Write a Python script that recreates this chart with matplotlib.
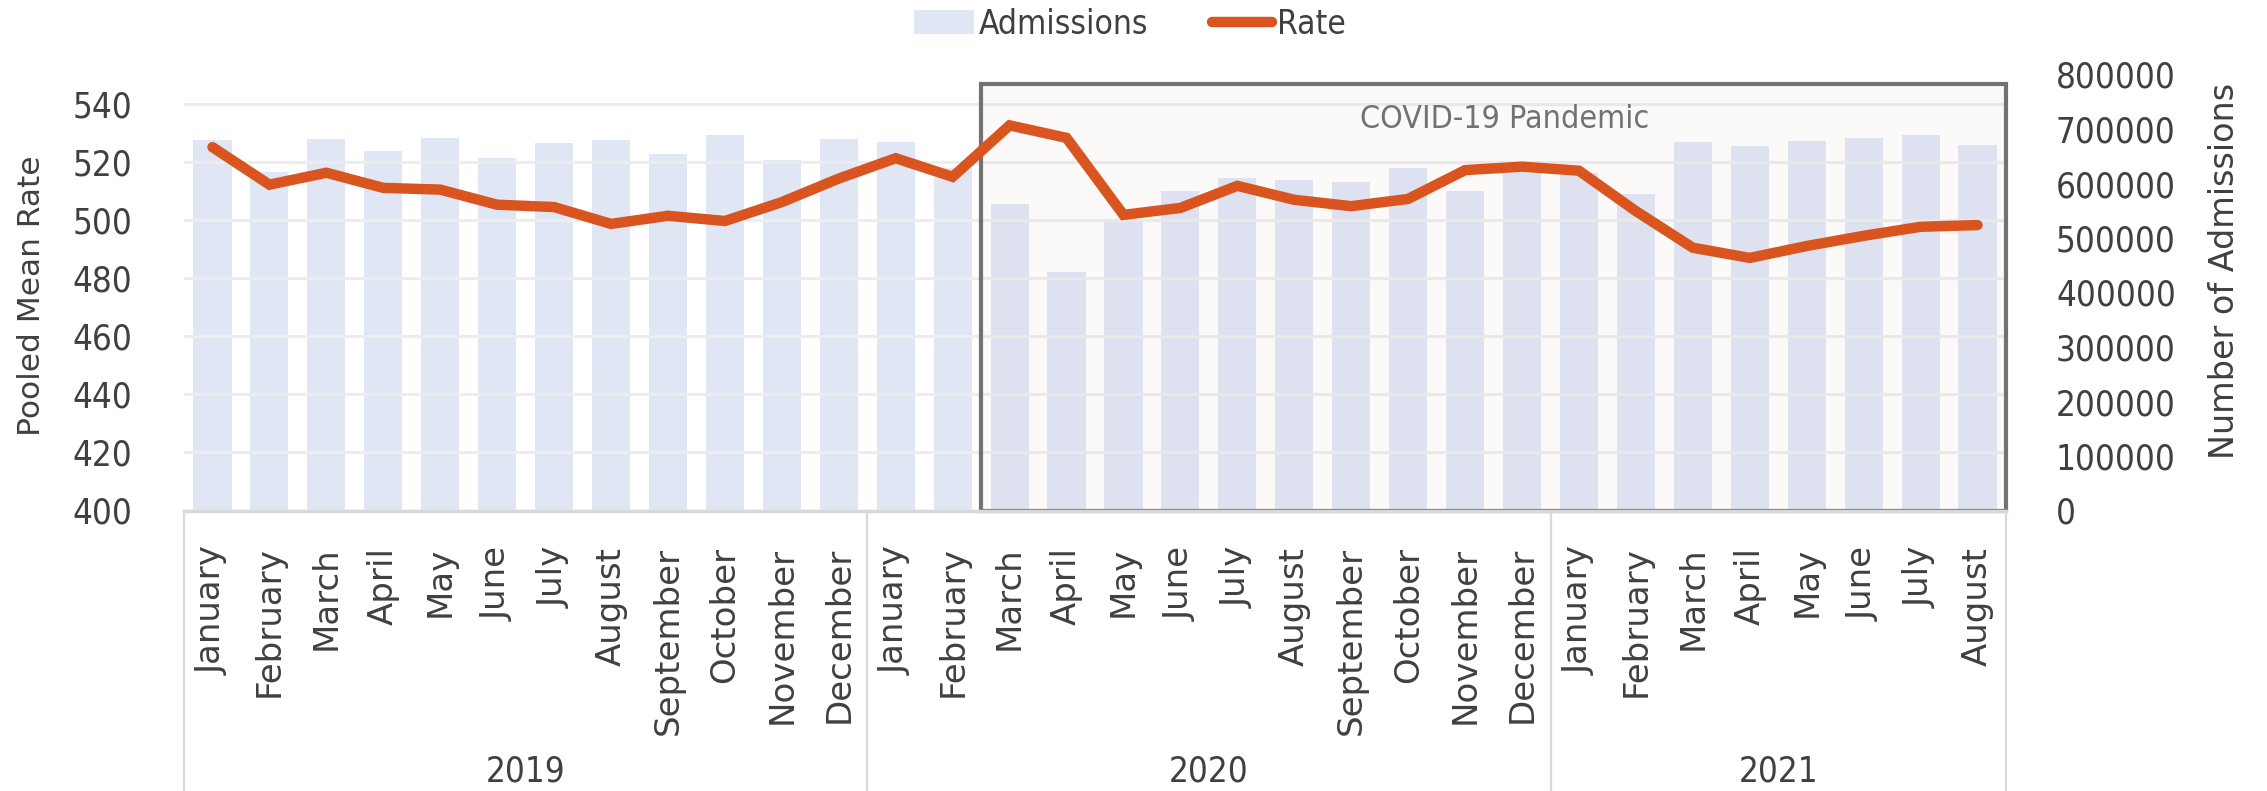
import matplotlib
matplotlib.use('Agg')
import matplotlib.pyplot as plt
from matplotlib.patches import Rectangle, Patch
from matplotlib.lines import Line2D
from matplotlib.transforms import blended_transform_factory

# --- dane ---
months = ['January', 'February', 'March', 'April', 'May', 'June', 'July', 'August',
          'September', 'October', 'November', 'December',
          'January', 'February', 'March', 'April', 'May', 'June', 'July', 'August',
          'September', 'October', 'November', 'December',
          'January', 'February', 'March', 'April', 'May', 'June', 'July', 'August']
years = ['2019', '2020', '2021']
year_counts = [12, 12, 8]

admissions = [680600, 621000, 682400, 659400, 683600, 647700, 674300, 680000,
              654500, 689200, 643300, 681800,
              676700, 628000, 562000, 438000, 532000, 586000, 611000, 606000,
              603000, 628000, 586000, 625000,
              619000, 581000, 675600, 668800, 678000, 683600, 688600, 670600]

rate = [525.0, 512.1, 516.2, 511.0, 510.4, 505.2, 504.4, 498.6,
        501.4, 499.6, 506.1, 514.2,
        521.2, 514.8, 532.5, 528.2, 501.7, 504.1, 511.7, 506.9,
        504.7, 507.2, 517.1, 518.3,
        516.9, 503.0, 490.4, 486.9, 491.0, 494.5, 497.6, 498.2]

covid_start = 14  # marzec 2020

# --- kolory / czcionki ---
BAR_C = '#E1E6F5'
LINE_C = '#D9541F'
TXT_C = '#404040'
GRID_C = '#EDEDED'
SEP_C = '#D9D9D9'
num_font = dict(family='DejaVu Sans', stretch='condensed')

fig = plt.figure(figsize=(22.67, 7.91), dpi=100)
ax = fig.add_axes([184 / 2267, 280.5 / 791, 1822 / 2267, 436 / 791])
ax2 = ax.twinx()
ax.set_zorder(ax2.get_zorder() + 1)
ax.patch.set_visible(False)

x = list(range(len(months)))

# slupki (prawa os)
ax2.bar(x, admissions, width=0.67, color=BAR_C, zorder=1)
ax2.set_ylim(0, 800000)
ax2.set_yticks(range(0, 800001, 100000))
ax2.set_yticklabels([str(v) for v in range(0, 800001, 100000)], color=TXT_C,
                    fontsize=25, **num_font)
ax2.tick_params(axis='y', length=0, pad=36)

# linia (lewa os)
ax.plot(x, rate, color=LINE_C, lw=7.5, solid_capstyle='round',
        solid_joinstyle='miter', zorder=4)
ax.set_ylim(400, 550)
ax.set_xlim(-0.5, len(months) - 0.5)
ax.set_yticks(range(400, 541, 20))
ax.set_yticklabels([str(v) for v in range(400, 541, 20)], color=TXT_C,
                   fontsize=25, **num_font)
ax.tick_params(axis='y', length=0, pad=37)
ax.yaxis.grid(True, color=GRID_C, lw=2.2, zorder=0)
ax.set_axisbelow(True)

# os X - miesiace
ax.set_xticks(x)
ax.set_xticklabels(months, rotation=90, fontsize=24.5, color=TXT_C)
ax.tick_params(axis='x', length=0, pad=26)

for a in (ax, ax2):
    for s in a.spines.values():
        s.set_visible(False)
ax.spines['bottom'].set_visible(True)
ax.spines['bottom'].set_color(SEP_C)
ax.spines['bottom'].set_linewidth(2.5)

# prostokat COVID
ax.add_patch(Rectangle((covid_start - 0.5, 400), len(months) - covid_start, 146.6,
                       facecolor='#A89888', alpha=0.045, edgecolor='none',
                       zorder=1, clip_on=False))
ax.add_patch(Rectangle((covid_start - 0.5, 400), len(months) - covid_start, 146.6,
                       facecolor='none', edgecolor='#767171', lw=3, zorder=2,
                       clip_on=False))
ax.text(22.7, 534.5, 'COVID-19 Pandemic', color='#767171', fontsize=23,
        ha='center', va='center', zorder=3, **num_font)

# separatory lat i etykiety lat
tr = blended_transform_factory(ax.transData, fig.transFigure)
bounds = [-0.5]
for c in year_counts:
    bounds.append(bounds[-1] + c)
for b in bounds:
    ax.plot([b, b], [0, 280.5 / 791], transform=tr, color=SEP_C, lw=1.6,
            clip_on=False)
for i, yr in enumerate(years):
    xc = (bounds[i] + bounds[i + 1]) / 2
    ax.text(xc, 19.3 / 791, yr, transform=tr, ha='center', va='center',
            fontsize=25, color=TXT_C, **num_font)

# opisy osi
fig.text(31.6 / 2267, 1 - 296 / 791, 'Pooled Mean Rate', rotation=90,
         ha='center', va='center', fontsize=22.5, color=TXT_C)
fig.text(2225 / 2267, 1 - 270.5 / 791, 'Number of Admissions', rotation=90,
         ha='center', va='center', fontsize=24, color=TXT_C)

# legenda
handles = [Patch(facecolor=BAR_C, edgecolor='none'),
           Line2D([0], [0], color=LINE_C, lw=7.5, solid_capstyle='round')]
leg = fig.legend(handles, ['Admissions', 'Rate'], loc='center',
                 bbox_to_anchor=(1130 / 2267, 1 - 24 / 791), ncol=2,
                 frameon=False, handlelength=1.8, handletextpad=0.15,
                 columnspacing=1.9, prop=dict(size=24, **num_font))
for t in leg.get_texts():
    t.set_color(TXT_C)

plt.savefig('out.png', dpi=100)
